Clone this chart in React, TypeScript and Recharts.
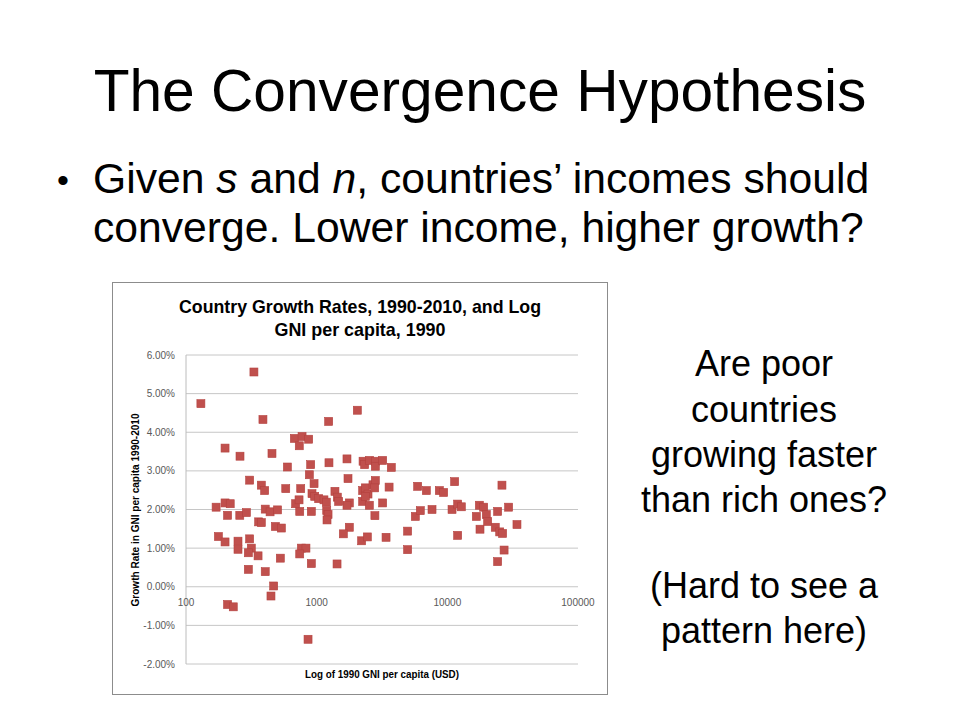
import React from 'react';
import { ScatterChart, Scatter, XAxis, YAxis, CartesianGrid } from 'recharts';

// GNI per capita in 1990 (USD, log axis)
const gniPerCapita1990 = [
  130, 331, 388, 199, 259, 455, 597, 580, 307, 377, 400, 170, 199, 218, 208, 258, 290, 404, 440, 502,
  360, 377, 483, 537, 177, 199, 250, 250, 307, 316, 300, 356, 300, 404, 527, 469, 447, 208, 230,
  675, 773, 869, 736, 900, 879, 955, 755, 690, 733, 742, 910, 921, 966, 1036, 1137, 1186, 1242, 1236,
  2047, 1194, 1222, 1200, 1380, 1439, 1473, 1706, 1737, 1778, 1706, 1778, 1600, 1432, 910, 764, 828,
  742, 859,
  2265, 2329, 2546, 2811, 2811, 3199, 3725, 2250, 2356, 2471, 2250, 2529, 2697, 2811, 2780, 3199,
  2790, 3583, 2208, 2443, 3396, 2356,
  4966, 4966, 5689, 6210, 5930, 6906, 7634, 8687, 9372, 10864, 11376, 11997, 12798, 11997, 16672,
  17587, 18976, 17783, 19867, 20357, 23270, 24266, 26182, 25172, 26487, 29442, 34112, 27185, 24266,
];

// Growth rate of GNI per capita 1990-2010 (%)
const growthRatePct = [
  4.74, 5.56, 4.33, 3.59, 3.38, 3.45, 3.1, 2.54, 2.76, 2.63, 2.49, 2.06, 2.17, 2.15, 1.85, 1.85, 1.92, 2.01, 1.94, 1.99,
  1.68, 1.66, 1.56, 1.52, 1.3, 1.16, 1.18, 0.97, 1.24, 1.0, 0.88, 0.8, 0.45, 0.39, 0.74, 0.02, -0.24, -0.46, -0.52,
  3.84, 3.89, 3.82, 3.65, 3.16, 2.9, 2.67, 2.54, 2.15, 2.25, 1.95, 1.95, 2.41, 2.34, 2.28, 2.25, 2.19, 3.21, 4.28,
  4.57, 1.97, 1.87, 1.73, 2.47, 2.32, 2.21, 3.31, 2.8, 2.17, 2.11, 1.54, 1.37, 0.59, 0.6, 1.0, 1.0,
  0.85, -1.36,
  3.25, 3.16, 3.27, 3.25, 3.12, 3.27, 3.09, 2.49, 2.56, 2.4, 2.21, 2.11, 2.64, 2.75, 2.56, 2.17,
  1.84, 2.58, 1.19, 1.29, 1.28, 2.34,
  1.44, 0.96, 1.82, 1.97, 2.6, 2.49, 2.0, 2.49, 2.44, 2.0, 2.72, 2.14, 2.07, 1.33, 1.82,
  2.11, 2.06, 1.49, 1.87, 1.69, 1.54, 1.95, 2.63, 1.42, 1.38, 2.06, 1.61, 0.95, 0.65,
];

const xTickValues = [100, 1000, 10000, 100000];
const yTickValues = [-2, -1, 0, 1, 2, 3, 4, 5, 6];

const chartData = gniPerCapita1990.map((gni, i) => ({ gni, growth: growthRatePct[i] }));

// layout constants
const CHART_LEFT = 112;
const CHART_TOP = 282;
const CHART_W = 496;
const CHART_H = 413;
const MARGIN = { top: 73, right: 30, bottom: 0, left: 0 };
const Y_AXIS_W = 74;
const X_AXIS_H = 31;
const PLOT_H = CHART_H - MARGIN.top - MARGIN.bottom - X_AXIS_H;
const Y_MIN = -2;
const Y_MAX = 6;
const ZERO_Y = MARGIN.top + (PLOT_H * (Y_MAX - 0)) / (Y_MAX - Y_MIN);

const FONT = '"Liberation Sans", Arial, sans-serif';

const XTick = (props: any) => {
  const { x, payload } = props;
  return (
    <text x={x} y={ZERO_Y + 19} textAnchor="middle" fontSize={10} fill="#595959" fontFamily={FONT}>
      {payload.value}
    </text>
  );
};

const SquareMarker = (props: any) => {
  const { cx, cy } = props;
  if (cx == null || cy == null) return null;
  return <rect x={cx - 4} y={cy - 4} width={8} height={8} fill="#C0504D" stroke="#B4423F" strokeWidth={0.6} />;
};

export default function App() {
  return (
    <div style={{ position: 'absolute', left: 0, top: 0, width: 960, height: 720, background: '#fff', fontFamily: FONT }}>
      <svg width={960} height={720} style={{ position: 'absolute', left: 0, top: 0 }}>
        <text x={480} y={111} textAnchor="middle" fontSize={58.67} fontFamily={FONT} fill="#000">
          The Convergence Hypothesis
        </text>
        <text x={57} y={192} fontSize={34} fontFamily={FONT} fill="#000">•</text>
        <text x={93} y={193} fontSize={42.67} fontFamily={FONT} fill="#000">
          Given <tspan fontStyle="italic">s</tspan> and <tspan fontStyle="italic">n</tspan>, countries’ incomes should
        </text>
        <text x={93} y={241.5} fontSize={42.67} fontFamily={FONT} fill="#000">
          converge. Lower income, higher growth?
        </text>

        <g fontSize={36} fontFamily={FONT} fill="#000" textAnchor="middle">
          <text x={764} y={376}>Are poor</text>
          <text x={764} y={422}>countries</text>
          <text x={764} y={467}>growing faster</text>
          <text x={764} y={512}>than rich ones?</text>
          <text x={764} y={598}>(Hard to see a</text>
          <text x={764} y={643}>pattern here)</text>
        </g>

        <rect x={112.5} y={282.5} width={495} height={412} fill="none" stroke="#8c8c8c" strokeWidth={1} />

        <g fontFamily={FONT} fontWeight="bold" fill="#000" textAnchor="middle">
          <text x={360} y={312.5} fontSize={19} textLength={362} lengthAdjust="spacingAndGlyphs">
            Country Growth Rates, 1990-2010, and Log
          </text>
          <text x={360} y={335.5} fontSize={19} textLength={171} lengthAdjust="spacingAndGlyphs">
            GNI per capita, 1990
          </text>
          <text x={382} y={678} fontSize={11} textLength={154} lengthAdjust="spacingAndGlyphs">
            Log of 1990 GNI per capita (USD)
          </text>
          <text
            transform="translate(139,510) rotate(-90)"
            fontSize={11}
            textLength={193}
            lengthAdjust="spacingAndGlyphs"
          >
            Growth Rate in GNI per capita 1990-2010
          </text>
        </g>
      </svg>

      <div style={{ position: 'absolute', left: CHART_LEFT, top: CHART_TOP, width: CHART_W, height: CHART_H }}>
        <ScatterChart width={CHART_W} height={CHART_H} margin={MARGIN}>
          <CartesianGrid vertical={false} stroke="#c6c6c6" strokeWidth={1} />
          <XAxis
            dataKey="gni"
            type="number"
            scale="log"
            domain={[100, 100000]}
            ticks={xTickValues}
            height={X_AXIS_H}
            axisLine={false}
            tickLine={false}
            tick={<XTick />}
            allowDataOverflow
          />
          <YAxis
            dataKey="growth"
            type="number"
            domain={[Y_MIN, Y_MAX]}
            ticks={yTickValues}
            width={Y_AXIS_W}
            axisLine={{ stroke: '#bcbcbc' }}
            tickLine={false}
            tickSize={0}
            tickMargin={11}
            tick={{ fontSize: 10, fill: '#595959', fontFamily: FONT }}
            tickFormatter={(v: number) => `${v.toFixed(2)}%`}
            interval={0}
          />
          <Scatter data={chartData} shape={<SquareMarker />} isAnimationActive={false} />
        </ScatterChart>
      </div>
    </div>
  );
}
